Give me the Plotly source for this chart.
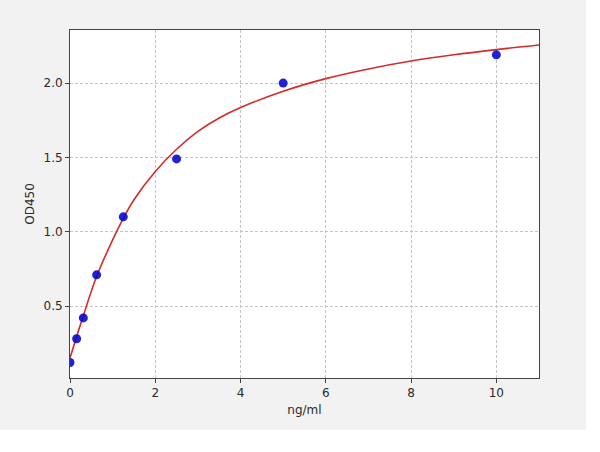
"""ELISA standard curve, OD450 against concentration."""
import plotly.graph_objects as go

# standards (ng/ml) and measured OD450
conc = [0, 0.156, 0.3125, 0.625, 1.25, 2.5, 5, 10]
od450 = [0.12, 0.28, 0.42, 0.71, 1.10, 1.49, 2.00, 2.19]

# fitted curve
fit_x = [0, 0.156, 0.3125, 0.625, 1.0, 1.25, 1.5, 2.0, 2.5, 3.0, 3.5, 4.0, 5.0, 6.0, 7.0, 8.0, 9.0, 10.0, 11.0]
fit_y = [0.15, 0.295, 0.435, 0.70, 0.945, 1.09, 1.215, 1.405, 1.555, 1.675, 1.765, 1.835, 1.945, 2.03, 2.095, 2.148, 2.19, 2.225, 2.256]

x_ticks = [0, 2, 4, 6, 8, 10]
y_ticks = [0.5, 1.0, 1.5, 2.0]

fig = go.Figure()
fig.add_trace(
    go.Scatter(
        x=fit_x,
        y=fit_y,
        mode="lines",
        line=dict(color="#d42a2a", width=1.6, shape="spline", smoothing=1.0),
        hoverinfo="skip",
    )
)
fig.add_trace(
    go.Scatter(
        x=conc,
        y=od450,
        mode="markers",
        marker=dict(color="#0a0ad0", size=9, opacity=0.9),
        hovertemplate="%{x} ng/ml<br>OD450 %{y:.2f}<extra></extra>",
    )
)

axis_common = dict(
    showline=True,
    mirror=True,
    linecolor="#444444",
    linewidth=1,
    ticks="outside",
    ticklen=4,
    tickcolor="#444444",
    showgrid=True,
    gridcolor="#c4c4c4",
    griddash="3px,2px",
    gridwidth=0.8,
    zeroline=False,
    tickfont=dict(family="DejaVu Sans", size=12, color="#2a2a2a"),
)

fig.update_xaxes(
    range=[0, 11],
    tickvals=x_ticks,
    title=dict(text="ng/ml", font=dict(family="DejaVu Sans", size=12, color="#2a2a2a"), standoff=6),
    **axis_common,
)
fig.update_yaxes(
    range=[0.016, 2.357],
    tickvals=y_ticks,
    tickformat=".1f",
    title=dict(text="OD450", font=dict(family="DejaVu Sans", size=12, color="#2a2a2a"), standoff=6),
    **axis_common,
)

# grey canvas, the page around it stays white
fig.update_layout(
    width=586,
    height=430,
    showlegend=False,
    paper_bgcolor="#f2f2f2",
    plot_bgcolor="white",
    margin=dict(l=70, r=47, t=30, b=52),
)

fig.write_html(
    "out.html",
    config={"displayModeBar": False},
    post_script="document.body.style.margin = '0';",
)
